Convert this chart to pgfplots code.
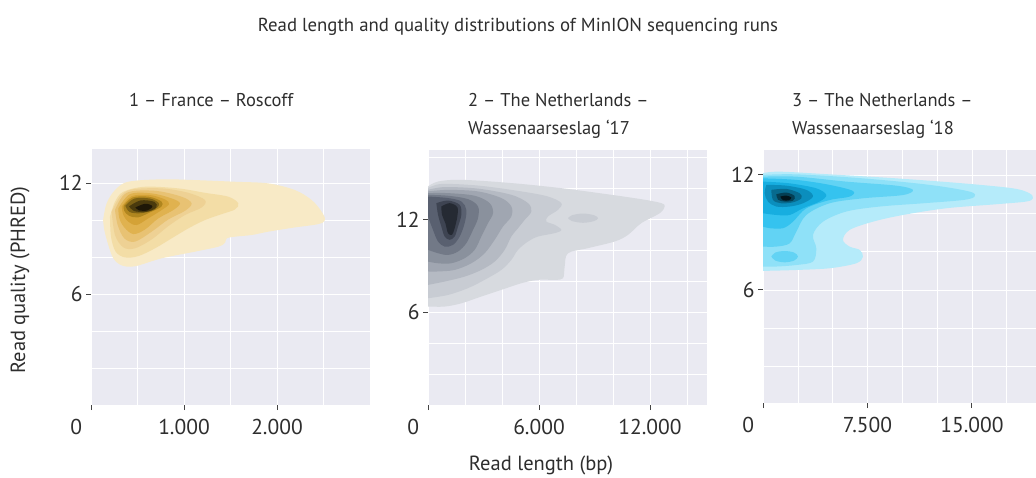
\documentclass[border=0pt]{standalone}
\usepackage{pgfplots}
\pgfplotsset{compat=1.18}
\usepackage{fontspec}
\setmainfont{PT Sans}
\definecolor{bgc}{HTML}{EAEAF2}
\definecolor{tc}{HTML}{2E2E2E}
\definecolor{tickc}{HTML}{444444}
% panel 1 (yellow)
\definecolor{ya}{HTML}{F8EAC6}\definecolor{yb}{HTML}{F3DDA6}\definecolor{yc}{HTML}{EED194}
\definecolor{yd}{HTML}{E8C273}\definecolor{ye}{HTML}{E0B24F}\definecolor{yf}{HTML}{D4A236}
\definecolor{yg}{HTML}{B0861F}\definecolor{yh}{HTML}{7D6115}\definecolor{yi}{HTML}{4A3A0D}
\definecolor{yj}{HTML}{1E1707}
% panel 2 (grey)
\definecolor{ga}{HTML}{D7DADF}\definecolor{gb}{HTML}{C8CCD3}\definecolor{gc}{HTML}{B5BAC3}
\definecolor{gd}{HTML}{A0A6B1}\definecolor{ge}{HTML}{8A919D}\definecolor{gf}{HTML}{727987}
\definecolor{gg}{HTML}{596070}\definecolor{gh}{HTML}{3E4452}\definecolor{gi}{HTML}{252A33}
% panel 3 (cyan)
\definecolor{ca}{HTML}{B5EBFA}\definecolor{cb}{HTML}{8FE1F8}\definecolor{cc}{HTML}{62D3F4}
\definecolor{cd}{HTML}{35C3EF}\definecolor{ce}{HTML}{17AEE0}\definecolor{cf}{HTML}{0B8EBD}
\definecolor{cg}{HTML}{076A8E}\definecolor{ch}{HTML}{043F54}\definecolor{ci}{HTML}{02151C}
\pgfplotsset{
  panel/.style={
    scale only axis, anchor=south west, enlargelimits=false,
    axis background/.style={fill=bgc},
    axis line style={draw=none},
    grid=both,
    major grid style={white, line width=0.8pt},
    minor grid style={white, line width=0.6pt},
    tick align=outside, major tick length=5pt, minor tick length=0pt,
    tick pos=left,
    scaled x ticks=false, scaled y ticks=false,
    tick style={color=tickc, line width=0.9pt},
    ticklabel style={font=\fontsize{21.5}{21.5}\selectfont, text=tc},
    xticklabel style={yshift=-6pt},
    clip=true,
  },
  dens/.style={draw=none, fill=#1, smooth, tension=0.55, forget plot},
}
\begin{document}
\begin{tikzpicture}
\path[use as bounding box] (0pt,0pt) rectangle (1036pt,477pt);

% ---------------- Panel 1 ----------------
\begin{axis}[panel, at={(91pt,72pt)}, width=279pt, height=256pt,
  xmin=0, xmax=3000, ymin=0, ymax=13.84,
  xtick={0,1000,2000}, xticklabels={\makebox[0pt][r]{0\hspace{9pt}},1.000,2.000},
  minor xtick={500,1500,2500},
  ytick={6,12}, yticklabels={6,12}, minor ytick={2,4,8,10}]
\addplot[dens=ya] coordinates {(130,10.0)(168,10.9)(258,11.62)(401,12.07)(760,12.20)(1118,12.16)(1548,12.07)(1907,11.98)(2193,11.62)(2373,11.08)(2480,10.45)(2516,10.0)(2444,9.78)(2193,9.60)(1907,9.37)(1727,9.19)(1548,9.10)(1459,9.01)(1441,8.77)(1369,8.56)(1118,8.29)(760,7.93)(473,7.50)(330,7.55)(240,7.93)(186,8.65)(143,9.46)(130,10.0)} -- cycle;
\addplot[dens=yb] coordinates {(204,10.18)(258,10.99)(348,11.53)(581,11.80)(939,11.71)(1226,11.47)(1477,11.26)(1584,10.90)(1548,10.57)(1405,10.32)(1226,10.0)(1047,9.55)(867,9.01)(688,8.47)(509,8.05)(366,7.98)(265,8.29)(215,9.10)(204,10.18)} -- cycle;
\addplot[dens=yc] coordinates {(222,10.45)(312,11.26)(437,11.65)(760,11.71)(1047,11.47)(1226,11.08)(1190,10.68)(1011,10.27)(831,9.67)(652,8.95)(473,8.47)(348,8.52)(258,9.19)(222,10.45)} -- cycle;
\addplot[dens=yd] coordinates {(258,10.54)(383,11.47)(688,11.58)(975,11.26)(1082,10.90)(1011,10.50)(831,10.03)(652,9.37)(473,8.83)(358,9.01)(287,9.73)(258,10.54)} -- cycle;
\addplot[dens=ye] coordinates {(294,10.63)(419,11.40)(652,11.44)(867,11.17)(957,10.90)(885,10.54)(724,10.09)(581,9.49)(455,9.24)(358,9.60)(305,10.09)(294,10.63)} -- cycle;
\addplot[dens=yf] coordinates {(330,10.72)(437,11.29)(634,11.35)(796,11.11)(839,10.86)(760,10.54)(616,10.09)(491,9.73)(401,9.91)(348,10.27)(330,10.72)} -- cycle;
\addplot[dens=yg] coordinates {(350,10.76)(447,11.22)(620,11.26)(756,11.01)(756,10.72)(640,10.43)(505,10.14)(407,10.24)(358,10.49)(350,10.76)} -- cycle;
\addplot[dens=yh] coordinates {(369,10.77)(467,11.16)(635,11.16)(731,10.89)(683,10.56)(538,10.37)(417,10.43)(369,10.77)} -- cycle;
\addplot[dens=yi] coordinates {(410,10.74)(533,11.06)(683,10.98)(702,10.68)(593,10.44)(461,10.49)(410,10.74)} -- cycle;
\addplot[dens=yj] coordinates {(478,10.68)(582,10.88)(660,10.75)(609,10.52)(517,10.52)(478,10.68)} -- cycle;
\end{axis}

% ---------------- Panel 2 ----------------
\begin{axis}[panel, at={(428pt,72pt)}, width=279pt, height=255pt,
  xmin=0, xmax=15080, ymin=0, ymax=16.5,
  xtick={0,6000,12000}, xticklabels={\makebox[0pt][r]{0\hspace{9pt}},6.000,12.000},
  minor xtick={2000,4000,8000,10000,14000},
  ytick={6,12}, yticklabels={6,12}, minor ytick={2,4,8,10,14,16}]
\addplot[dens=ga] coordinates {(0,14.14)(541,14.46)(1802,14.57)(4505,14.36)(7208,14.03)(9911,13.60)(11713,13.28)(12614,13.06)(12794,12.85)(12524,12.41)(11533,11.77)(10812,11.01)(10091,10.58)(8650,10.15)(7568,9.82)(7388,8.96)(7298,8.20)(6848,8.10)(5947,8.10)(5046,7.88)(3964,7.45)(2883,7.02)(1802,6.58)(901,6.37)(0,6.37)} -- cycle;
\addplot[dens=gb] coordinates {(0,14.03)(721,14.30)(2703,14.20)(5046,13.82)(6487,13.49)(7208,13.06)(7028,12.63)(6487,12.20)(6397,11.87)(6848,11.66)(7208,11.33)(6848,11.12)(5947,10.90)(5406,10.58)(4865,10.04)(4505,9.39)(3964,8.74)(3063,8.10)(2162,7.56)(1081,7.12)(0,6.91)} -- cycle;
\addplot[dens=gb] coordinates {(7568,12.09)(7785,12.28)(8379,12.39)(8974,12.28)(9190,12.09)(8974,11.90)(8379,11.79)(7785,11.90)(7568,12.09)} -- cycle;
\addplot[dens=gc] coordinates {(0,13.92)(901,14.10)(2703,14.00)(4505,13.60)(5406,13.06)(5586,12.52)(5226,11.98)(4865,11.44)(4505,10.90)(4145,10.04)(3604,9.28)(2883,8.74)(1982,8.31)(901,7.99)(0,7.77)} -- cycle;
\addplot[dens=gd] coordinates {(0,13.82)(1081,13.92)(2703,13.82)(3964,13.39)(4505,12.85)(4505,12.20)(4055,11.55)(3604,10.69)(3063,9.82)(2343,9.17)(1442,8.74)(541,8.64)(0,8.64)} -- cycle;
\addplot[dens=ge] coordinates {(0,13.71)(1081,13.71)(2523,13.54)(3334,13.06)(3514,12.41)(3244,11.77)(2883,10.90)(2523,10.04)(1982,9.50)(1261,9.17)(541,9.17)(0,9.28)} -- cycle;
\addplot[dens=gf] coordinates {(0,13.60)(1081,13.54)(2162,13.32)(2703,12.85)(2703,12.09)(2433,11.33)(2072,10.47)(1622,9.93)(1081,9.71)(541,9.82)(0,10.04)} -- cycle;
\addplot[dens=gg] coordinates {(0,13.49)(1081,13.39)(1802,13.17)(2072,12.63)(1982,11.77)(1712,10.90)(1352,10.36)(901,10.25)(541,10.58)(270,11.33)(0,12.20)} -- cycle;
\addplot[dens=gh] coordinates {(451,13.06)(1081,13.23)(1712,12.95)(1802,12.31)(1622,11.55)(1442,10.90)(1171,10.69)(901,10.90)(721,11.55)(541,12.31)(451,13.06)} -- cycle;
\addplot[dens=gi] coordinates {(721,12.85)(1171,13.06)(1586,12.80)(1586,12.20)(1442,11.44)(1297,11.01)(1081,11.12)(937,11.77)(757,12.31)(721,12.85)} -- cycle;
\end{axis}

% ---------------- Panel 3 ----------------
\begin{axis}[panel, at={(763pt,74pt)}, width=273pt, height=253pt,
  xmin=0, xmax=19600, ymin=0.1, ymax=13.3,
  xtick={0,7500,15000}, xticklabels={\makebox[0pt][r]{0\hspace{9pt}},7.500,15.000},
  minor xtick={2500,5000,10000,12500,17500},
  ytick={6,12}, yticklabels={6,12}, minor ytick={2,4,8,10}]
\addplot[dens=ca] coordinates {(0,12.09)(1196,12.17)(4784,12.03)(9568,11.82)(14352,11.56)(17940,11.30)(19136,11.04)(19375,10.78)(18897,10.61)(16744,10.47)(13156,10.26)(10046,9.91)(7894,9.56)(6219,9.13)(5741,8.61)(6219,8.26)(6937,8.09)(7176,7.74)(6698,7.39)(4784,7.13)(2392,7.04)(478,7.0)(0,7.0)} -- cycle;
\addplot[dens=cb] coordinates {(0,12.00)(2392,12.03)(7176,11.82)(11960,11.48)(14830,11.13)(15189,10.87)(14352,10.69)(11482,10.52)(8372,10.35)(5980,10.09)(4306,9.56)(3588,8.87)(3827,8.17)(3588,7.48)(2392,7.30)(957,7.22)(0,7.22)} -- cycle;
\addplot[dens=cc] coordinates {(598,7.74)(885,7.95)(1555,8.03)(2225,7.95)(2512,7.74)(2225,7.53)(1555,7.44)(885,7.53)(598,7.74)} -- cycle;
\addplot[dens=cc] coordinates {(0,11.91)(2392,11.91)(5980,11.65)(9568,11.44)(10764,11.22)(10046,10.95)(7176,10.78)(4784,10.52)(3110,9.91)(2392,9.04)(1914,8.43)(957,8.26)(0,8.26)} -- cycle;
\addplot[dens=cd] coordinates {(0,11.82)(2392,11.74)(4784,11.48)(6458,11.16)(6219,10.87)(4784,10.69)(3110,10.26)(2153,9.56)(1435,9.22)(478,9.22)(0,9.30)} -- cycle;
\addplot[dens=ce] coordinates {(0,11.65)(1914,11.56)(3827,11.30)(4545,10.95)(4066,10.61)(2870,10.26)(1914,9.91)(957,9.91)(0,10.00)} -- cycle;
\addplot[dens=cf] coordinates {(239,11.48)(1674,11.44)(3110,11.22)(3588,10.87)(2870,10.52)(1914,10.35)(957,10.35)(359,10.61)(120,11.04)(239,11.48)} -- cycle;
\addplot[dens=cg] coordinates {(598,11.22)(1674,11.27)(2631,11.04)(2751,10.78)(2153,10.57)(1316,10.52)(718,10.69)(598,11.22)} -- cycle;
\addplot[dens=ch] coordinates {(957,10.99)(1674,11.08)(2272,10.90)(2153,10.66)(1555,10.61)(1076,10.71)(957,10.99)} -- cycle;
\addplot[dens=ci] coordinates {(1244,10.87)(1674,10.92)(2033,10.82)(1866,10.68)(1435,10.68)(1244,10.87)} -- cycle;
\end{axis}

% ---------------- Texts ----------------
\node[font=\fontsize{18.8}{18.8}\selectfont, text=tc, inner sep=0] at (518pt,450pt) {Read length and quality distributions of MinION sequencing runs};
\node[font=\fontsize{18.5}{18.5}\selectfont, text=tc, inner sep=0, anchor=base west] at (129pt,370pt) {1 – France – Roscoff};
\node[font=\fontsize{18.5}{18.5}\selectfont, text=tc, inner sep=0, anchor=base west] at (468pt,370pt) {2 – The Netherlands –};
\node[font=\fontsize{18.5}{18.5}\selectfont, text=tc, inner sep=0, anchor=base west] at (468pt,342pt) {Wassenaarseslag ‘17};
\node[font=\fontsize{18.5}{18.5}\selectfont, text=tc, inner sep=0, anchor=base west] at (792pt,370pt) {3 – The Netherlands –};
\node[font=\fontsize{18.5}{18.5}\selectfont, text=tc, inner sep=0, anchor=base west] at (792pt,342pt) {Wassenaarseslag ‘18};
\node[font=\fontsize{20.5}{20.5}\selectfont, text=tc, inner sep=0, rotate=90] at (20pt,197pt) {Read quality (PHRED)};
\node[font=\fontsize{20.5}{20.5}\selectfont, text=tc, inner sep=0] at (541pt,12pt) {Read length (bp)};
\end{tikzpicture}
\end{document}
